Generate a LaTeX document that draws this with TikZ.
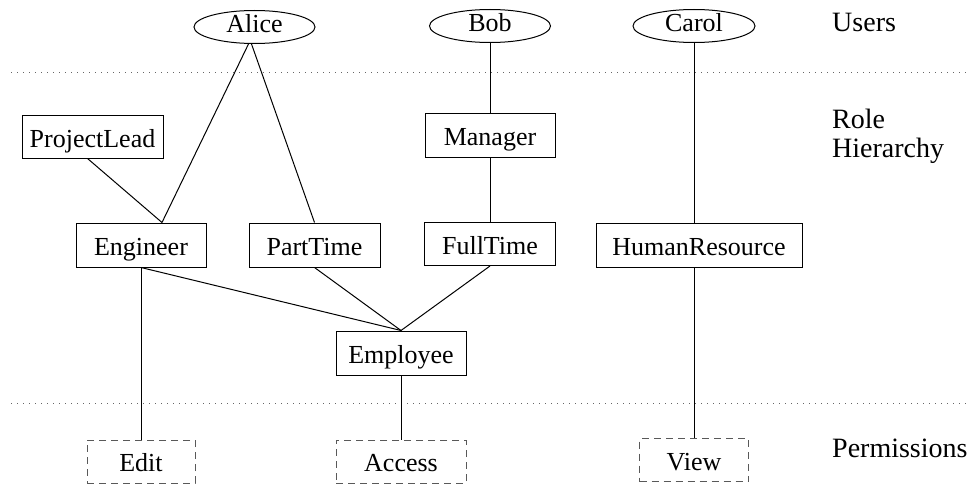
\documentclass[tikz,border=0pt]{standalone}
\usepackage{fontspec}
\setmainfont{Liberation Serif}
\usetikzlibrary{shapes.geometric}
\begin{document}
\begin{tikzpicture}[x=1pt,y=-1pt,
  base/.style={inner sep=0pt, font=\fontsize{26}{30}\selectfont, line width=1pt, text depth=0pt},
  user/.style={base, draw, ellipse, minimum width=121pt, minimum height=33pt, text height=12pt},
  role/.style={base, draw, rectangle, minimum height=44pt, text height=21pt},
  perm/.style={base, draw=black!65, rectangle, minimum height=43pt, text height=20pt, dash pattern=on 7pt off 5pt},
  layer/.style={inner sep=0pt, font=\fontsize{28}{31}\selectfont, anchor=base west, align=left},
  sep/.style={draw=black!60, line width=1pt, dash pattern=on 1pt off 5pt},
  conn/.style={line width=1pt}]
\useasboundingbox (0,0) rectangle (974,487);
% users
\node[user] (alice) at (254.5,27) {Alice};
\node[user] (bob) at (490,26) {Bob};
\node[user, minimum width=122pt] (carol) at (694,26) {Carol};
% roles
\node[role, minimum width=141pt, minimum height=43pt] (plead) at (92.5,136.5) {ProjectLead};
\node[role, minimum width=130pt] (manager) at (490,135) {Manager};
\node[role, minimum width=130pt] (engineer) at (141,245) {Engineer};
\node[role, minimum width=131pt] (parttime) at (314.5,245) {PartTime};
\node[role, minimum width=131pt, minimum height=43pt] (fulltime) at (490,244) {FullTime};
\node[role, minimum width=206pt] (hr) at (699,245) {HumanResource};
\node[role, minimum width=130pt] (employee) at (401,353) {Employee};
% permissions
\node[perm, minimum width=108pt] (edit) at (141,461.5) {Edit};
\node[perm, minimum width=130pt] (access) at (401,461.5) {Access};
\node[perm, minimum width=109pt] (view) at (694,460) {View};
% layer labels
\node[layer] (lusers) at (832,32) {Users};
\node[layer] (lrole) at (832,128) {Role};
\node[layer] (lhier) at (832,157) {Hierarchy};
\node[layer] (lperm) at (832,457) {Permissions};
% separators
\coordinate (s1a) at (11,72.5);
\coordinate (s1b) at (968,72.5);
\coordinate (s2a) at (11,403);
\coordinate (s2b) at (968,403);
\draw[sep] (s1a) -- (s1b);
\draw[sep] (s2a) -- (s2b);
% connectors
\draw[conn] ([xshift=-6pt]alice.south) -- ([xshift=21pt]engineer.north);
\draw[conn] ([xshift=-3pt]alice.south) -- (parttime.north);
\draw[conn] ([xshift=-5pt]plead.south) -- ([xshift=21pt]engineer.north);
\draw[conn] (bob.south) -- (manager.north);
\draw[conn] (manager.south) -- (fulltime.north);
\draw[conn] (carol.south) -- (carol.south |- hr.north);
\draw[conn] (engineer.south) -- (edit.north);
\draw[conn] (engineer.south) -- (employee.north);
\draw[conn] (parttime.south) -- (employee.north);
\draw[conn] (fulltime.south) -- (employee.north);
\draw[conn] (employee.south) -- (access.north);
\draw[conn] (hr.south -| view.north) -- (view.north);
\end{tikzpicture}
\end{document}
